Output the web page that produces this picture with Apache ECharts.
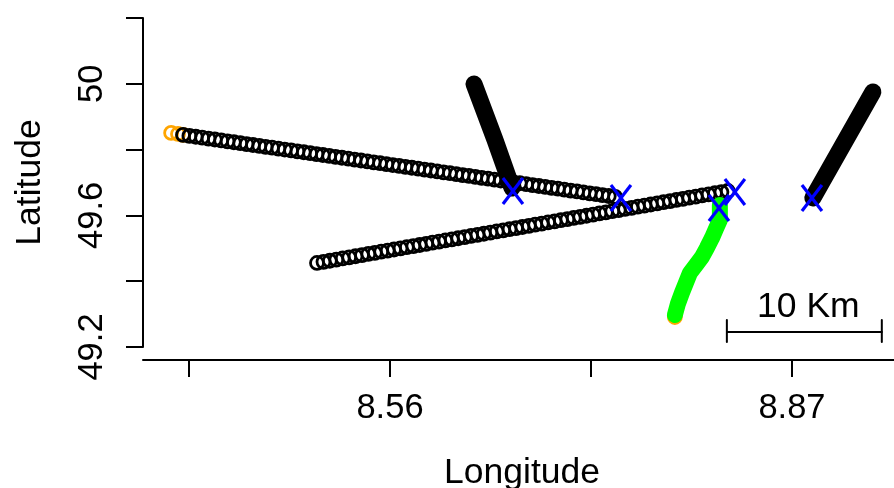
<!DOCTYPE html>
<html><head><meta charset="utf-8">
<style>html,body{margin:0;padding:0;background:#fff}#c{width:894px;height:488px}</style>
<script src="https://cdn.jsdelivr.net/npm/echarts@6/dist/echarts.min.js"></script>
</head><body><div id="c"></div>
<script>
const xMin = 8.3695, xMax = 8.9487, yMin = 49.2, yMax = 50.2, yFloor = 49.1605;
const xTicks = [8.405, 8.56, 8.715, 8.87];
const xLabels = [8.56, 8.87];
const yTicks = [49.2, 49.4, 49.6, 49.8, 50, 50.2];
const yLabels = [49.2, 49.6, 50];

const track1Lon = [8.4004,8.4053,8.4102,8.4151,8.4200,8.4249,8.4298,8.4347,8.4396,8.4445,8.4494,8.4543,8.4592,8.4641,8.4690,8.4739,8.4788,8.4837,8.4886,8.4935,8.4984,8.5033,8.5082,8.5131,8.5180,8.5229,8.5278,8.5327,8.5376,8.5425,8.5474,8.5523,8.5572,8.5621,8.5670,8.5719,8.5768,8.5817,8.5866,8.5915,8.5964,8.6013,8.6062,8.6111,8.6160,8.6209,8.6258,8.6307,8.6356,8.6405,8.6454,8.6503,8.6552,8.6601,8.6650,8.6699,8.6748,8.6797,8.6846,8.6895,8.6944,8.6993,8.7042,8.7091,8.7140,8.7189,8.7238,8.7287,8.7336];
const track1Lat = [49.8445,49.8417,49.8390,49.8362,49.8334,49.8307,49.8279,49.8251,49.8223,49.8196,49.8168,49.8140,49.8113,49.8085,49.8057,49.8030,49.8002,49.7974,49.7946,49.7919,49.7891,49.7863,49.7836,49.7808,49.7780,49.7753,49.7725,49.7697,49.7669,49.7642,49.7614,49.7586,49.7559,49.7531,49.7503,49.7476,49.7448,49.7420,49.7392,49.7365,49.7337,49.7309,49.7282,49.7254,49.7226,49.7199,49.7171,49.7143,49.7115,49.7088,49.7060,49.7032,49.7005,49.6977,49.6949,49.6922,49.6894,49.6866,49.6838,49.6811,49.6783,49.6755,49.6728,49.6700,49.6672,49.6645,49.6617,49.6589,49.6561];
const track2Lon = [8.5037,8.5087,8.5136,8.5186,8.5235,8.5285,8.5334,8.5384,8.5433,8.5483,8.5532,8.5582,8.5631,8.5681,8.5730,8.5780,8.5829,8.5879,8.5928,8.5978,8.6027,8.6077,8.6126,8.6176,8.6225,8.6275,8.6324,8.6374,8.6423,8.6473,8.6522,8.6572,8.6621,8.6671,8.6720,8.6770,8.6819,8.6869,8.6918,8.6968,8.7017,8.7067,8.7116,8.7166,8.7215,8.7265,8.7314,8.7364,8.7413,8.7463,8.7512,8.7562,8.7611,8.7661,8.7710,8.7760,8.7809,8.7859,8.7908,8.7958,8.8007,8.8057,8.8106,8.8156,8.8205];
const track2Lat = [49.4554,49.4588,49.4622,49.4657,49.4691,49.4725,49.4759,49.4793,49.4828,49.4862,49.4896,49.4930,49.4964,49.4999,49.5033,49.5067,49.5101,49.5135,49.5170,49.5204,49.5238,49.5272,49.5306,49.5341,49.5375,49.5409,49.5443,49.5477,49.5512,49.5546,49.5580,49.5614,49.5648,49.5683,49.5717,49.5751,49.5785,49.5819,49.5854,49.5888,49.5922,49.5956,49.5990,49.6025,49.6059,49.6093,49.6127,49.6161,49.6196,49.6230,49.6264,49.6298,49.6332,49.6367,49.6401,49.6435,49.6469,49.6503,49.6538,49.6572,49.6606,49.6640,49.6674,49.6709,49.6742];
const track3Lon = [8.6248,8.6410,8.6541];
const track3Lat = [49.9996,49.8293,49.6834];
const track4Lon = [8.9324,8.8861];
const track4Lat = [49.9752,49.6530];
const greenLon = [8.8144,8.8144,8.8113,8.8083,8.8044,8.8006,8.7960,8.7913,8.7882,8.7851,8.7820,8.7797];
const greenLat = [49.6317,49.5861,49.5587,49.5314,49.5010,49.4736,49.4493,49.4250,49.3946,49.3642,49.3307,49.2973];
const orangeLon = [8.3912,8.3965,8.4004,8.7797];
const orangeLat = [49.8506,49.8475,49.8445,49.2912];
const crossLon = [8.6548,8.7381,8.8260,8.8137,8.8854];
const crossLat = [49.6742,49.6530,49.6712,49.6226,49.6530];
const scaleLon = [8.8198,8.9393];
const scaleLat = 49.2456, scaleTickLow = 49.2152, scaleTickHigh = 49.2821;
const scaleText = '10 Km', scaleTextLat = 49.2456;

const zip = (a, b) => a.map((v, i) => [v, b[i]]);
const FONT = '"Liberation Sans", Arial, sans-serif';
const FS = 34.5, NS = 35.5;
const lineSer = (data, color, width) => ({
  type: 'line', data, xAxisIndex: 0, yAxisIndex: 0, symbol: 'none', smooth: false, clip: false, silent: true,
  lineStyle: { color, width, cap: 'round', join: 'round', opacity: 1 }
});
const hollow = (data, color) => ({
  type: 'scatter', data, xAxisIndex: 0, yAxisIndex: 0, symbol: 'circle', symbolSize: 13, clip: false, silent: true,
  itemStyle: { color: 'rgba(0,0,0,0)', borderColor: color, borderWidth: 2.8, opacity: 1 }
});
const chart = echarts.init(document.getElementById('c'), null, { renderer: 'canvas' });
chart.setOption({
  animation: false, backgroundColor: '#fff',
  grid: [
    { left: 143, right: 0, top: 18, height: 329, outerBoundsMode: 'none' },
    { left: 143, right: 0, top: 347, height: 13, outerBoundsMode: 'none' }
  ],
  xAxis: [
    { type: 'value', gridIndex: 0, min: xMin, max: xMax, show: false },
    { type: 'value', gridIndex: 1, min: xMin, max: xMax, position: 'bottom',
      name: 'Longitude', nameLocation: 'middle', nameGap: 95,
      nameTextStyle: { fontFamily: FONT, fontSize: NS, color: '#000', padding: [0, 0, 0, 7] },
      splitLine: { show: false },
      axisLine: { show: true, onZero: false, lineStyle: { color: '#000', width: 2 } },
      axisTick: { show: true, length: 17, customValues: xTicks, lineStyle: { color: '#000', width: 2 } },
      axisLabel: { show: true, margin: 31, customValues: xLabels, fontFamily: FONT, fontSize: FS, color: '#000', formatter: v => String(v) } }
  ],
  yAxis: [
    { type: 'value', gridIndex: 0, min: yMin, max: yMax, position: 'left',
      name: 'Latitude', nameLocation: 'middle', nameGap: 95, nameRotate: 90,
      nameTextStyle: { fontFamily: FONT, fontSize: NS, color: '#000' },
      splitLine: { show: false },
      axisLine: { show: true, onZero: false, lineStyle: { color: '#000', width: 2 } },
      axisTick: { show: true, length: 17, customValues: yTicks, lineStyle: { color: '#000', width: 2 } },
      axisLabel: { show: true, rotate: 90, margin: 33, customValues: yLabels, fontFamily: FONT, fontSize: FS, color: '#000', formatter: v => String(v), verticalAlign: 'bottom', align: 'center' } },
    { type: 'value', gridIndex: 1, min: yFloor, max: yMin, show: false }
  ],
  series: [
    hollow(zip(orangeLon, orangeLat), '#FFA500'),
    hollow(zip(track1Lon, track1Lat), '#000'),
    hollow(zip(track2Lon, track2Lat), '#000'),
    lineSer(zip(track3Lon, track3Lat), '#000', 17),
    lineSer(zip(track4Lon, track4Lat), '#000', 17),
    lineSer(zip(greenLon, greenLat), '#00FF00', 16),
    lineSer([[scaleLon[0], scaleLat], [scaleLon[1], scaleLat]], '#000', 2),
    lineSer([[scaleLon[0], scaleTickLow], [scaleLon[0], scaleTickHigh]], '#000', 2),
    lineSer([[scaleLon[1], scaleTickLow], [scaleLon[1], scaleTickHigh]], '#000', 2),
    { type: 'custom', xAxisIndex: 0, yAxisIndex: 0, clip: false, silent: true, z: 10, data: zip(crossLon, crossLat),
      renderItem: (p, api) => {
        const c = api.coord([api.value(0), api.value(1)]);
        const w = 10, h = 13;
        return { type: 'group', children: [
          { type: 'line', shape: { x1: c[0]-w, y1: c[1]-h, x2: c[0]+w, y2: c[1]+h }, style: { stroke: '#0000FF', lineWidth: 3.2 } },
          { type: 'line', shape: { x1: c[0]+w, y1: c[1]-h, x2: c[0]-w, y2: c[1]+h }, style: { stroke: '#0000FF', lineWidth: 3.2 } }
        ]};
      } },
    { type: 'scatter', xAxisIndex: 0, yAxisIndex: 0, clip: false, silent: true, symbolSize: 0, itemStyle: { opacity: 1 },
      data: [{ value: [(scaleLon[0] + scaleLon[1]) / 2, scaleTextLat], name: scaleText }],
      label: { show: true, position: 'top', distance: 4, offset: [4, -3], formatter: '{b}', fontFamily: FONT, fontSize: NS, color: '#000', opacity: 1 } }
  ]
});
</script></body></html>
